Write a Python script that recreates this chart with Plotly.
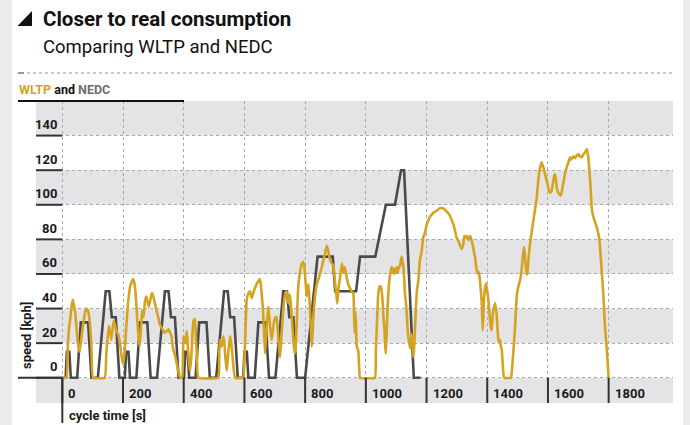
import plotly.graph_objects as go

# ---------------- data ----------------
wltp_time = [
    0, 14, 18, 21, 26, 31, 35, 39, 43, 49,
    53, 57, 62, 68, 74, 79, 84, 90, 96, 101,
    140, 145, 153, 157, 161, 166, 170, 174, 178, 184,
    190, 194, 199, 205, 211, 217, 224, 230, 234, 238,
    241, 244, 247, 251, 255, 259, 263, 268, 272, 277,
    281, 285, 290, 295, 300, 305, 310, 316, 321, 327,
    333, 338, 344, 350, 355, 360, 363, 366, 370, 375,
    382, 388, 395, 399, 403, 406, 410, 413, 415, 418,
    421, 425, 429, 432, 437, 440, 443, 448, 514, 517,
    520, 525, 531, 535, 537, 542, 547, 553, 558, 563,
    569, 596, 600, 604, 607, 611, 618, 624, 629, 635,
    640, 646, 651, 654, 657, 661, 665, 668, 672, 676,
    679, 682, 686, 690, 694, 698, 702, 706, 709, 712,
    717, 720, 723, 728, 734, 739, 742, 745, 750, 753,
    756, 761, 765, 768, 772, 775, 778, 783, 789, 794,
    798, 801, 805, 808, 811, 814, 816, 819, 822, 825,
    827, 832, 838, 844, 849, 855, 860, 866, 871, 876,
    882, 888, 893, 896, 899, 903, 906, 910, 915, 921,
    926, 931, 937, 942, 947, 953, 959, 961, 963, 966,
    968, 970, 975, 978, 981, 1030, 1033, 1036, 1041, 1046,
    1050, 1055, 1058, 1061, 1064, 1066, 1069, 1072, 1074, 1080,
    1085, 1088, 1091, 1094, 1096, 1099, 1102, 1105, 1107, 1110,
    1113, 1118, 1121, 1124, 1127, 1129, 1133, 1137, 1140, 1143,
    1146, 1149, 1151, 1154, 1157, 1160, 1162, 1165, 1168, 1173,
    1178, 1184, 1189, 1195, 1201, 1206, 1211, 1220, 1228, 1236,
    1244, 1255, 1262, 1267, 1272, 1277, 1283, 1288, 1294, 1299,
    1305, 1310, 1316, 1321, 1324, 1327, 1330, 1333, 1336, 1340,
    1343, 1346, 1349, 1352, 1355, 1358, 1360, 1363, 1366, 1371,
    1373, 1376, 1379, 1382, 1385, 1387, 1389, 1393, 1396, 1400,
    1404, 1407, 1409, 1412, 1415, 1417, 1420, 1423, 1426, 1428,
    1431, 1434, 1437, 1440, 1442, 1445, 1448, 1451, 1453, 1456,
    1478, 1482, 1486, 1491, 1497, 1502, 1506, 1510, 1514, 1518,
    1521, 1524, 1527, 1530, 1532, 1537, 1542, 1547, 1552, 1557,
    1563, 1568, 1574, 1579, 1582, 1585, 1590, 1596, 1601, 1604,
    1607, 1612, 1616, 1620, 1623, 1626, 1629, 1634, 1638, 1642,
    1646, 1650, 1656, 1662, 1668, 1673, 1676, 1678, 1684, 1689,
    1695, 1700, 1705, 1711, 1716, 1722, 1728, 1733, 1736, 1739,
    1742, 1744, 1747, 1750, 1755, 1761, 1765, 1769, 1773, 1777,
    1783, 1788, 1794, 1800,
]
wltp_speed = [
    0, 0, 18, 27, 34, 42, 45, 41, 37, 24,
    18, 15, 22, 30, 37, 40, 39, 33, 18, 0,
    0, 14, 30, 27, 22, 29, 33, 30, 27, 25,
    20, 14, 8, 14, 30, 44, 53, 56, 57, 54,
    50, 42, 33, 24, 18, 28, 39, 35, 44, 47,
    44, 41, 45, 49, 47, 43, 39, 35, 31, 29,
    27, 26, 27, 28, 26, 24, 19, 16, 14, 10,
    4, 0, 0, 24, 22, 20, 27, 20, 14, 8,
    4, 12, 26, 33, 34, 24, 14, 0, 0, 15,
    22, 18, 24, 18, 12, 4, 15, 24, 18, 8,
    0, 0, 10, 30, 44, 48, 50, 46, 49, 52,
    54, 56, 57, 54, 48, 40, 25, 14, 26, 36,
    41, 35, 27, 22, 28, 33, 35, 35, 29, 22,
    12, 18, 27, 40, 48, 50, 47, 43, 48, 42,
    35, 22, 14, 16, 30, 44, 54, 61, 66, 67,
    63, 56, 47, 52, 54, 46, 39, 28, 18, 27,
    35, 46, 54, 57, 60, 64, 68, 72, 76.5, 73.6,
    68, 66, 65, 60, 54, 48, 43, 52, 58, 66,
    61, 64, 58, 54, 52, 50, 48.6, 38, 26, 38,
    30, 18, 16, 6, 0, 0, 15, 29, 48.6, 53,
    52.5, 45, 35, 29, 18, 14, 28, 42, 48.6, 60,
    64, 61, 63, 60, 63, 61, 64, 61, 63, 64,
    65, 70, 67, 64, 55, 48.6, 42, 30, 23.6, 20,
    17, 22, 25.6, 18, 12, 20, 29, 40, 50, 56,
    68, 73, 81, 84, 89, 91, 93, 95, 96, 97,
    98, 98, 97, 96, 95, 93.8, 91, 89, 85, 81,
    79, 76.5, 74.6, 77, 82, 81, 81, 82, 80, 80,
    82, 81, 79, 77, 74, 71, 69.7, 65, 62, 60,
    61, 56, 50, 43, 27.5, 36, 44.8, 52, 54.4, 50,
    44.8, 38, 33, 29, 27.5, 34, 39, 41, 43, 40,
    37, 28, 20.7, 22, 21.7, 18, 16, 8, 2.5, 0,
    0, 6, 15, 27.5, 46.7, 52.5, 55, 58, 64, 71,
    75.5, 71, 64, 60, 60, 71, 79, 85, 91, 96.7,
    104, 114, 121.6, 124.5, 123, 121.6, 118, 114, 110, 108,
    107, 108, 112, 116, 117.8, 115, 110, 107, 106, 105.3,
    108, 112, 117.8, 121.6, 125, 127.4, 126, 126.5, 128, 127,
    128.4, 129.3, 128, 127.4, 129, 130.3, 132.2, 127.4, 121, 114,
    105, 98.6, 95, 92.8, 90, 87, 84, 81, 72, 62,
    46.7, 29, 16, 0,
]
assert len(wltp_time) == len(wltp_speed)

nedc_time = [
    0, 11, 15, 23, 28, 49, 61, 85, 96, 117, 143, 155, 163, 176, 188,
    195, 206, 210, 218, 223, 244, 256, 280, 291, 312, 338, 350, 358, 371, 383,
    390, 401, 405, 413, 418, 439, 451, 475, 486, 507, 533, 545, 553, 566, 578,
    585, 596, 600, 608, 613, 634, 646, 670, 681, 702, 728, 740, 748, 761, 773,
    780, 800, 841, 891, 899, 968, 981, 1031, 1066, 1096, 1116, 1126, 1158, 1180,
]
nedc_speed = [
    0, 0, 15, 15, 0, 0, 32, 32, 0, 0, 50, 50, 35, 35, 0,
    0, 0, 15, 15, 0, 0, 32, 32, 0, 0, 50, 50, 35, 35, 0,
    0, 0, 15, 15, 0, 0, 32, 32, 0, 0, 50, 50, 35, 35, 0,
    0, 0, 15, 15, 0, 0, 32, 32, 0, 0, 50, 50, 35, 35, 0,
    0, 0, 70, 70, 50, 50, 70, 70, 100, 100, 120, 120, 0, 0,
]
assert len(nedc_time) == len(nedc_speed)

x_ticks = [0, 200, 400, 600, 800, 1000, 1200, 1400, 1600, 1800]
y_ticks = [0, 20, 40, 60, 80, 100, 120, 140]
shaded_bands = [(20, 40), (60, 80), (100, 120), (140, 160)]

# ---------------- layout geometry ----------------
W, H = 690, 425
ML, MR, MT, MB = 36, 17, 101, 22
PW = W - ML - MR
PH = H - MT - MB
X_RANGE = [-86.7, 2012]
Y_RANGE = [-14.6, 160]


def pxx(x):
    return (x - ML) / PW


def pxy(y):
    return (H - MB - y) / PH


GOLD = "#d6a321"
DARK = "#4a4a4c"
BAND = "#e4e4e6"
INK = "#1a1a1a"
FONT = "Roboto"

fig = go.Figure()
fig.add_trace(go.Scatter(x=nedc_time, y=nedc_speed, mode="lines",
                         line=dict(color=DARK, width=2.6), name="NEDC",
                         hoverinfo="skip"))
fig.add_trace(go.Scatter(x=wltp_time, y=wltp_speed, mode="lines",
                         line=dict(color=GOLD, width=2.6, shape="spline", smoothing=0.3),
                         name="WLTP", hoverinfo="skip"))

shapes = []
# page side strips
shapes.append(dict(type="rect", xref="paper", yref="paper", x0=pxx(0), x1=pxx(12),
                   y0=pxy(H), y1=pxy(0), fillcolor="#ebebeb", line_width=0, layer="below"))
shapes.append(dict(type="rect", xref="paper", yref="paper", x0=pxx(683), x1=pxx(W),
                   y0=pxy(H), y1=pxy(0), fillcolor="#ebebeb", line_width=0, layer="below"))
# gray bands
for lo, hi in shaded_bands:
    shapes.append(dict(type="rect", xref="paper", yref="y", x0=0, x1=1, y0=lo, y1=hi,
                       fillcolor=BAND, line_width=0, layer="below"))
shapes.append(dict(type="rect", xref="paper", yref="y", x0=0, x1=1, y0=Y_RANGE[0], y1=0,
                   fillcolor=BAND, line_width=0, layer="below"))
# y tick bars in the label column
for v in y_ticks:
    shapes.append(dict(type="line", xref="paper", yref="y", x0=0, x1=pxx(62.3), y0=v, y1=v,
                       line=dict(color="#333333", width=2)))
shapes.append(dict(type="line", xref="paper", yref="y", x0=pxx(18), x1=pxx(62.3), y0=0, y1=0,
                   line=dict(color="#333333", width=2)))
# x tick bars in the bottom strip
for t in x_ticks:
    shapes.append(dict(type="line", xref="x", yref="y", x0=t, x1=t, y0=Y_RANGE[0], y1=0,
                       line=dict(color="#333333", width=2)))
shapes.append(dict(type="line", xref="x", yref="paper", x0=0, x1=0, y0=pxy(423), y1=pxy(377.7),
                   line=dict(color="#333333", width=2)))
# header rules
shapes.append(dict(type="line", xref="paper", yref="paper", x0=pxx(18), x1=pxx(24),
                   y0=pxy(73), y1=pxy(73), line=dict(color="#777777", width=1.5)))
shapes.append(dict(type="line", xref="paper", yref="paper", x0=pxx(27), x1=pxx(672),
                   y0=pxy(73), y1=pxy(73), line=dict(color="#9a9a9a", width=1, dash="dot")))
shapes.append(dict(type="line", xref="paper", yref="paper", x0=pxx(18), x1=pxx(184),
                   y0=pxy(101), y1=pxy(101), line=dict(color="#111111", width=2)))
# title triangle
tri = "M {a},{b} L {c},{d} L {e},{f} Z".format(
    a=pxx(32), b=pxy(11), c=pxx(32), d=pxy(26), e=pxx(17.5), f=pxy(26))
shapes.append(dict(type="path", xref="paper", yref="paper", path=tri,
                   fillcolor="#111111", line_width=0))

annotations = []
annotations.append(dict(text="<b>Closer to real consumption</b>", xref="paper", yref="paper",
                        x=pxx(41), y=pxy(18.5), xanchor="left", yanchor="middle", showarrow=False,
                        font=dict(family=FONT, size=20.5, color="#111111")))
annotations.append(dict(text="Comparing WLTP and NEDC", xref="paper", yref="paper",
                        x=pxx(41), y=pxy(47), xanchor="left", yanchor="middle", showarrow=False,
                        font=dict(family=FONT, size=18.5, color="#111111")))
annotations.append(dict(
    text="<b><span style='color:%s'>WLTP</span> and <span style='color:#6e6e70'>NEDC</span></b>" % GOLD,
    xref="paper", yref="paper", x=pxx(17), y=pxy(90), xanchor="left", yanchor="middle",
    showarrow=False, font=dict(family=FONT, size=12.5, color="#111111")))
for v in y_ticks:
    annotations.append(dict(text="<b>%d</b>" % v, xref="paper", yref="y", x=pxx(58.5), y=v,
                            xanchor="right", yanchor="middle", yshift=11, showarrow=False,
                            font=dict(family=FONT, size=13, color=INK)))
for t in x_ticks:
    annotations.append(dict(text="<b>%d</b>" % t, xref="x", yref="y", x=t, y=-9,
                            xanchor="left", yanchor="middle", xshift=4, showarrow=False,
                            font=dict(family=FONT, size=13, color=INK)))
annotations.append(dict(text="<b>speed [kph]</b>", xref="paper", yref="paper",
                        x=pxx(26), y=pxy(336), xanchor="center", yanchor="middle",
                        textangle=-90, showarrow=False,
                        font=dict(family=FONT, size=13, color=INK)))
annotations.append(dict(text="<b>cycle time [s]</b>", xref="paper", yref="paper",
                        x=pxx(67), y=pxy(415), xanchor="left", yanchor="middle",
                        showarrow=False, font=dict(family=FONT, size=13, color=INK)))

fig.update_layout(
    width=W, height=H,
    margin=dict(l=ML, r=MR, t=MT, b=MB, pad=0),
    paper_bgcolor="white", plot_bgcolor="rgba(0,0,0,0)",
    showlegend=False,
    shapes=shapes, annotations=annotations,
    xaxis=dict(range=X_RANGE, tickvals=x_ticks, showticklabels=False, ticks="",
               showgrid=True, gridcolor="#a9a9ab", griddash="dot", gridwidth=1,
               zeroline=False, showline=False, fixedrange=True),
    yaxis=dict(range=Y_RANGE, tickvals=y_ticks, showticklabels=False, ticks="",
               showgrid=True, gridcolor="#a9a9ab", griddash="dot", gridwidth=1,
               zeroline=False, showline=False, fixedrange=True),
)

fig.write_html("out.html", config={"displayModeBar": False},
               post_script="document.body.style.margin='0px';document.body.style.overflow='hidden';")
